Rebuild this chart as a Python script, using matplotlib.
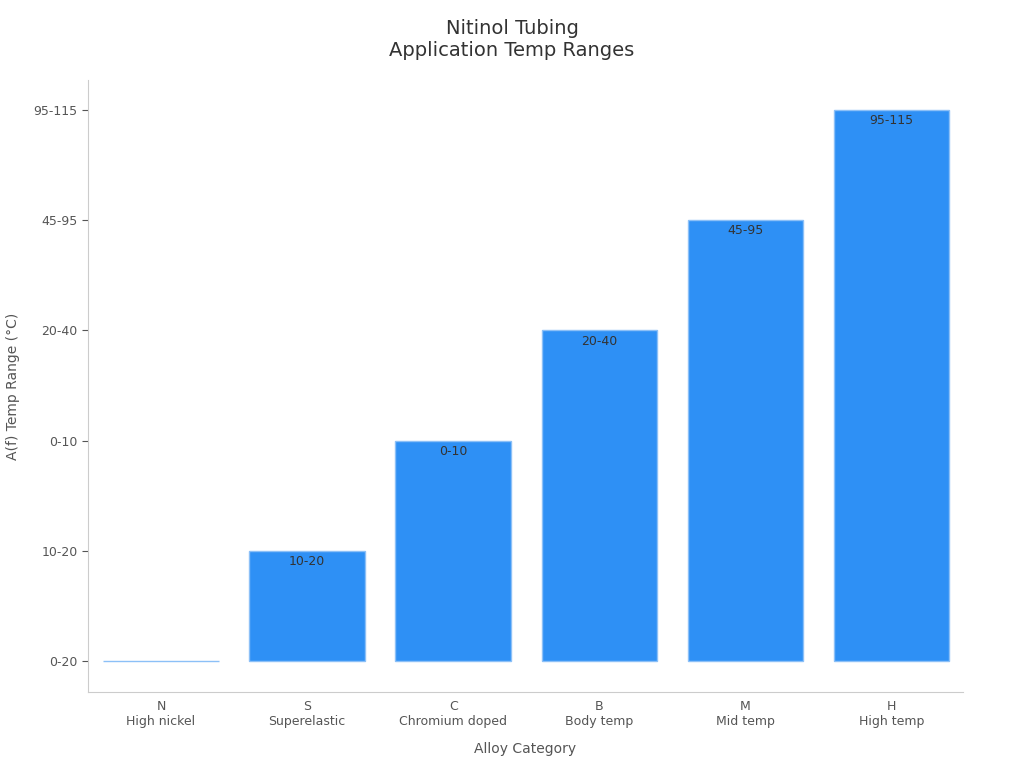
import matplotlib
matplotlib.use("Agg")
import matplotlib.pyplot as plt

codes = ["N", "S", "C", "B", "M", "H"]
names = ["High nickel", "Superelastic", "Chromium doped", "Body temp", "Mid temp", "High temp"]
ytick_labels = ["0-20", "10-20", "0-10", "20-40", "45-95", "95-115"]
values = [0, 1, 2, 3, 4, 5]
bar_labels = ["0-20", "10-20", "0-10", "20-40", "45-95", "95-115"]

fig = plt.figure(figsize=(10.24, 7.68), dpi=100)
ax = fig.add_axes([88/1024, 1-692/768, (963-88)/1024, (692-80)/768])
x = list(range(len(codes)))
bars = ax.bar(x, values, width=0.79, color="#2E90F5", edgecolor="#8cc0f7", linewidth=1)
for i, (v, lab) in enumerate(zip(values, bar_labels)):
    if v > 0:
        ax.text(i, v - 0.04, lab, ha="center", va="top", fontsize=9, color="#333333")
ax.set_xlim(-0.5, 5.49)
ax.set_ylim(-0.28, 5.27)
ax.set_xticks(x)
ax.set_xticklabels([f"{c}\n{n}" for c, n in zip(codes, names)], fontsize=9, color="#222222")
ax.set_yticks(range(6))
ax.set_yticklabels(ytick_labels, fontsize=9, color="#222222")
for s in ["top", "right"]:
    ax.spines[s].set_visible(False)
for s in ["left", "bottom"]:
    ax.spines[s].set_color("#cccccc")
ax.tick_params(colors="#555555", length=4)
ax.tick_params(axis="x", length=0, pad=6)
ax.set_xlabel("Alloy Category", fontsize=10, color="#555555", labelpad=10)
ax.set_ylabel("A(f) Temp Range (°C)", fontsize=10, color="#555555", labelpad=10)
fig.suptitle("Nitinol Tubing\nApplication Temp Ranges", y=0.975, fontsize=14, color="#333333")
fig.savefig("out.png", dpi=100)
